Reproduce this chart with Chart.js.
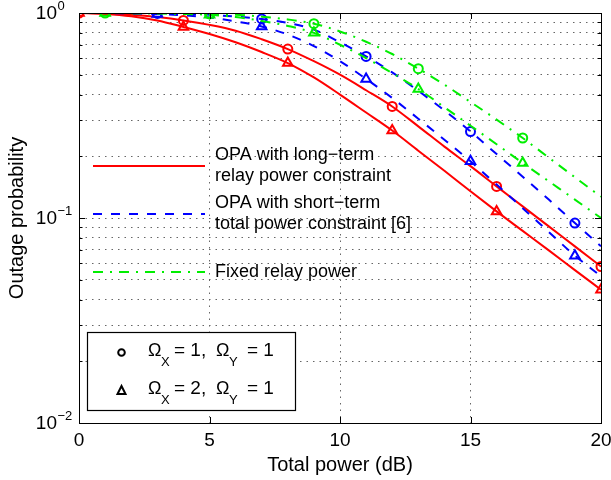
<!DOCTYPE html>
<html><head><meta charset="utf-8">
<script src="https://cdn.jsdelivr.net/npm/chart.js@4/dist/chart.umd.min.js"></script>
<style>html,body{margin:0;padding:0;background:#fff;}canvas{display:block;}</style>
</head><body>
<canvas id="c" width="611" height="480"></canvas>
<script>
// ---- data ----
const powerDb = [0,1,2,3,4,5,6,7,8,9,10,11,12,13,14,15,16,17,18,19,20];
const longTermO1  = [1.0,0.995,0.98,0.955,0.92,0.875,0.82,0.745,0.667,0.582,0.50,0.42,0.35,0.28,0.223,0.179,0.1426,0.114,0.091,0.0727,0.058];
const longTermO2  = [1.0,0.99,0.965,0.92,0.855,0.79,0.72,0.645,0.57,0.485,0.40,0.327,0.267,0.213,0.170,0.135,0.1077,0.0865,0.0695,0.0557,0.0447];
const shortTermO1 = [1.0,1.0,0.998,0.995,0.99,0.98,0.96,0.935,0.895,0.83,0.72,0.614,0.513,0.417,0.335,0.264,0.205,0.159,0.123,0.0945,0.0728];
const shortTermO2 = [1.0,0.999,0.995,0.99,0.975,0.95,0.91,0.86,0.785,0.69,0.582,0.477,0.385,0.305,0.241,0.189,0.1455,0.1117,0.0855,0.0655,0.052];
const fixedO1     = [1.0,1.0,0.999,0.997,0.994,0.99,0.98,0.96,0.93,0.887,0.813,0.724,0.631,0.535,0.447,0.368,0.302,0.2456,0.197,0.158,0.127];
const fixedO2     = [1.0,1.0,0.998,0.995,0.99,0.98,0.955,0.915,0.865,0.80,0.70,0.603,0.509,0.426,0.347,0.282,0.229,0.1854,0.151,0.123,0.1];
const markersLongTerm  = [0,4,8,12,16,20];
const markersShortTerm = [3,7,11,15,19];
const markersFixed     = [1,5,9,13,17];
const xTickValues = [0,5,10,15,20];
const xTickLabels = ['0','5','10','15','20'];
const yDecades = [1,0.1,0.01];
const yDecadeLabels = [['10','0'],['10','\u22121'],['10','\u22122']];
const yGridValues = [0.01,0.02,0.03,0.04,0.05,0.06,0.07,0.08,0.09,0.1,0.2,0.3,0.4,0.5,0.6,0.7,0.8,0.9,1];
const xTitle = 'Total power (dB)';
const yTitle = 'Outage probability';
const lineLegend = [
  ['OPA with long\u2212term','relay power constraint'],
  ['OPA with short\u2212term','total power constraint [6]'],
  ['Fixed relay power']
];
const markerLegend = [['1','1'],['2','1']];

const RED='#ff0000', BLUE='#0000ff', GREEN='#00ee00';
const DASH=[9,9], DASHDOT=[10,7,2,7];
const FONT='"Liberation Sans", Arial, Helvetica, sans-serif';

function pts(arr){ return arr.map((v,i)=>({x:powerDb[i], y:v})); }
function ds(arr, color, dash, style, marks){
  return {
    data: pts(arr), borderColor: color, borderWidth: 2, borderDash: dash,
    cubicInterpolationMode: 'monotone', fill: false,
    pointStyle: style,
    pointRadius: c => marks.includes(c.dataIndex) ? (style==='triangle'?5.5:4.5) : 0,
    pointHoverRadius: 0,
    pointBorderColor: color, pointBackgroundColor: 'rgba(0,0,0,0)', pointBorderWidth: 2
  };
}

const overlay = {
  id: 'overlay',
  afterDraw(chart){
    const {ctx, chartArea:a, scales:{x,y}} = chart;
    ctx.save();
    ctx.setLineDash([]);
    // axes box
    ctx.strokeStyle='#000'; ctx.lineWidth=1;
    ctx.strokeRect(Math.round(a.left)+0.5, Math.round(a.top)+0.5, Math.round(a.right-a.left), Math.round(a.bottom-a.top));
    // inward ticks
    ctx.beginPath();
    xTickValues.forEach(v=>{
      const px=Math.round(x.getPixelForValue(v))+0.5;
      ctx.moveTo(px,a.bottom); ctx.lineTo(px,a.bottom-6);
      ctx.moveTo(px,a.top); ctx.lineTo(px,a.top+6);
    });
    yGridValues.forEach(v=>{
      const len = yDecades.includes(v)?6:3.5;
      const py=Math.round(y.getPixelForValue(v))+0.5;
      ctx.moveTo(a.left,py); ctx.lineTo(a.left+len,py);
      ctx.moveTo(a.right,py); ctx.lineTo(a.right-len,py);
    });
    ctx.stroke();
    ctx.fillStyle='#000';
    // x tick labels
    ctx.font='19px '+FONT; ctx.textAlign='center'; ctx.textBaseline='middle';
    xTickValues.forEach((v,i)=>{ ctx.fillText(xTickLabels[i], x.getPixelForValue(v), a.bottom+18); });
    // y tick labels with superscripts
    yDecades.forEach((v,i)=>{
      const py=y.getPixelForValue(v);
      ctx.font='19px '+FONT; ctx.textAlign='right'; ctx.textBaseline='middle';
      ctx.fillText(yDecadeLabels[i][0], 57, py+1);
      ctx.font='13px '+FONT; ctx.textAlign='left';
      ctx.fillText(yDecadeLabels[i][1], 57.5, py-7);
    });
    // axis titles
    ctx.font='20px '+FONT; ctx.textAlign='center'; ctx.textBaseline='middle';
    ctx.fillText(xTitle, (a.left+a.right)/2, 465);
    ctx.save(); ctx.translate(17,(a.top+a.bottom)/2); ctx.rotate(-Math.PI/2);
    ctx.fillText(yTitle,0,0); ctx.restore();
    // line legend
    const rows=[{c:RED,d:[],y:166},{c:BLUE,d:DASH,y:214},{c:GREEN,d:DASHDOT,y:272}];
    rows.forEach((r,i)=>{
      ctx.strokeStyle=r.c; ctx.lineWidth=2; ctx.setLineDash(r.d);
      ctx.beginPath(); ctx.moveTo(93,r.y); ctx.lineTo(205,r.y); ctx.stroke();
      ctx.setLineDash([]);
      ctx.fillStyle='#000'; ctx.font='18px '+FONT; ctx.textAlign='left'; ctx.textBaseline='middle';
      const t=lineLegend[i];
      if(t.length===2){ ctx.fillText(t[0],215,r.y-10.5); ctx.fillText(t[1],215,r.y+10.5); }
      else ctx.fillText(t[0],215,r.y);
    });
    // marker legend box
    ctx.fillStyle='#fff'; ctx.fillRect(87,332,209,79);
    ctx.strokeStyle='#000'; ctx.lineWidth=1.2; ctx.strokeRect(87.5,332.5,208,78);
    // markers
    ctx.lineWidth=2;
    ctx.beginPath(); ctx.arc(121.5,352.5,3.3,0,Math.PI*2); ctx.stroke();
    ctx.beginPath(); ctx.moveTo(121.5,386); ctx.lineTo(125.5,394); ctx.lineTo(117.5,394); ctx.closePath(); ctx.stroke();
    // texts with subscripts
    const rowsY=[351,389];
    markerLegend.forEach((m,i)=>{
      const yy=rowsY[i];
      const part=(txt,sz,xx,dy)=>{ ctx.font=sz+'px '+FONT; ctx.fillStyle='#000'; ctx.textAlign='left'; ctx.textBaseline='middle'; ctx.fillText(txt,xx,yy+dy); };
      part('\u03A9',18,148,0); part('X',13,161,11); part('= '+m[0]+',',19,174,0);
      part('\u03A9',18,216,0); part('Y',13,229,11); part('= '+m[1],19,247,0);
    });
    ctx.restore();
  }
};

new Chart(document.getElementById('c'), {
  type: 'line',
  data: { datasets: [
    ds(fixedO1, GREEN, DASHDOT, 'circle', markersFixed),
    ds(fixedO2, GREEN, DASHDOT, 'triangle', markersFixed),
    ds(shortTermO1, BLUE, DASH, 'circle', markersShortTerm),
    ds(shortTermO2, BLUE, DASH, 'triangle', markersShortTerm),
    ds(longTermO1, RED, [], 'circle', markersLongTerm),
    ds(longTermO2, RED, [], 'triangle', markersLongTerm)
  ]},
  options: {
    responsive: false, animation: false, devicePixelRatio: 1,
    layout: { padding: { left: 0, right: 10, top: 13, bottom: 0 } },
    plugins: { legend: { display: false }, tooltip: { enabled: false } },
    scales: {
      x: {
        type: 'linear', min: 0, max: 20,
        afterBuildTicks: s => { s.ticks = xTickValues.map(v=>({value:v})); },
        afterFit: s => { s.height = 57; },
        ticks: { display: false },
        grid: { color: c => (c.tick && (c.tick.value===0||c.tick.value===20)) ? 'rgba(0,0,0,0)' : '#666', lineWidth: 1, drawTicks: false },
        border: { display: false, dash: [1.5,5] }
      },
      y: {
        type: 'logarithmic', min: 0.01, max: 1,
        afterBuildTicks: s => { s.ticks = yGridValues.map(v=>({value:v})); },
        afterFit: s => { s.width = 79; },
        ticks: { display: false },
        grid: { color: c => (c.tick && (c.tick.value===1||c.tick.value===0.01)) ? 'rgba(0,0,0,0)' : '#666', lineWidth: 1, drawTicks: false },
        border: { display: false, dash: [1.5,5] }
      }
    }
  },
  plugins: [overlay]
});
</script>
</body></html>
